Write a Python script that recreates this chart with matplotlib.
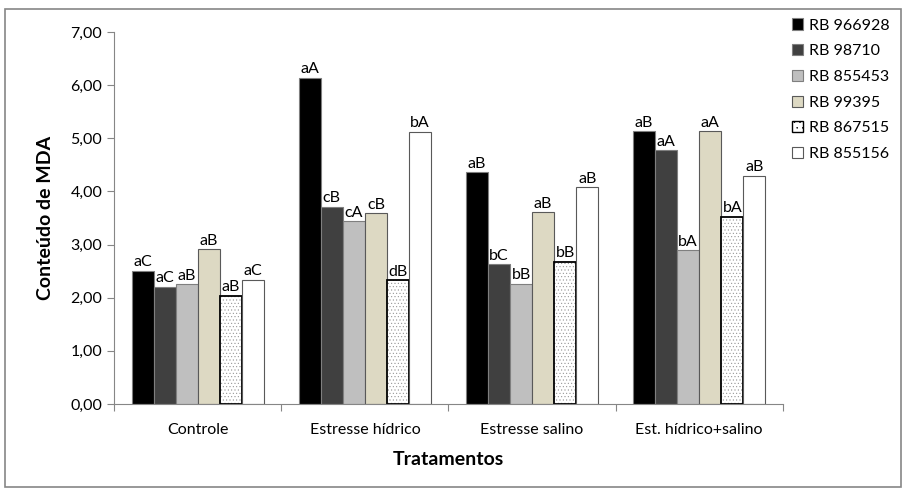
import matplotlib.pyplot as plt
import numpy as np
from matplotlib.patches import Rectangle
from matplotlib.ticker import FuncFormatter

plt.rcParams['font.family'] = ['Lato', 'DejaVu Sans']
plt.rcParams['hatch.linewidth'] = 0.35

tratamentos = ['Controle', 'Estresse hídrico', 'Estresse salino', 'Est. hídrico+salino']
cultivares = ['RB 966928', 'RB 98710', 'RB 855453', 'RB 99395', 'RB 867515', 'RB 855156']

# MDA por cultivar, na ordem dos tratamentos
mda = {
    'RB 966928': [2.50, 6.14, 4.36, 5.13],
    'RB 98710': [2.20, 3.71, 2.63, 4.77],
    'RB 855453': [2.25, 3.44, 2.26, 2.89],
    'RB 99395': [2.91, 3.59, 3.61, 5.13],
    'RB 867515': [2.03, 2.33, 2.68, 3.52],
    'RB 855156': [2.34, 5.12, 4.08, 4.29],
}
letras = {
    'RB 966928': ['aC', 'aA', 'aB', 'aB'],
    'RB 98710': ['aC', 'cB', 'bC', 'aA'],
    'RB 855453': ['aB', 'cA', 'bB', 'bA'],
    'RB 99395': ['aB', 'cB', 'aB', 'aA'],
    'RB 867515': ['aB', 'dB', 'bB', 'bA'],
    'RB 855156': ['aC', 'bA', 'aB', 'aB'],
}

cores = ['#000000', '#404040', '#bfbfbf', '#ddd9c3', 'white', 'white']
bordas = ['#7f7f7f', '#7f7f7f', '#7f7f7f', '#595959', '#000000', '#595959']
espessuras = [0.8, 0.8, 0.8, 0.8, 1.3, 0.8]

fig = plt.figure(figsize=(9.06, 4.92), dpi=100)
ax = fig.add_axes([0.126, 0.179, 0.738, 0.756])

x = np.arange(len(tratamentos)) + 0.5
largura = 0.132
for i, cv in enumerate(cultivares):
    pos = x + (i - 2.5) * largura
    if cv == 'RB 867515':
        # pontilhado cinza fino por baixo, contorno preto por cima
        ax.bar(pos, mda[cv], largura, color='white', edgecolor='#8c8c8c',
               hatch='.....', linewidth=0)
        ax.bar(pos, mda[cv], largura, fill=False, edgecolor=bordas[i],
               linewidth=espessuras[i])
        ax.bar([np.nan], [np.nan], color='white', edgecolor='black', hatch='...',
               linewidth=1.0, label=cv)
    else:
        ax.bar(pos, mda[cv], largura, color=cores[i], edgecolor=bordas[i],
               linewidth=espessuras[i], label=cv)
    for xp, v, t in zip(pos, mda[cv], letras[cv]):
        ax.text(xp, v + 0.03, t, ha='center', va='bottom', fontsize=11.5)

ax.set_xlim(0, 4)
ax.set_ylim(0, 7)
ax.set_yticks(np.arange(0, 8, 1))
ax.yaxis.set_major_formatter(FuncFormatter(lambda v, p: f'{v:.2f}'.replace('.', ',')))
ax.set_xticks([0, 1, 2, 3, 4])
ax.set_xticklabels([])
ax.set_xticks(x, minor=True)
ax.set_xticklabels(tratamentos, minor=True, fontsize=11.5)
ax.tick_params(axis='x', which='minor', length=0, pad=14)
ax.tick_params(axis='x', which='major', length=5, color='#868686')
ax.tick_params(axis='y', length=5, color='#868686', labelsize=11.5)

for s in ['top', 'right']:
    ax.spines[s].set_visible(False)
for s in ['left', 'bottom']:
    ax.spines[s].set_color('#868686')

ax.set_ylabel('Conteúdo de MDA', fontsize=14, fontweight='bold', labelpad=12)
ax.set_xlabel('Tratamentos', fontsize=14, fontweight='bold', labelpad=10)

ax.legend(loc='upper left', bbox_to_anchor=(0.992, 1.075), frameon=False, fontsize=11.5,
          handlelength=0.7, handleheight=0.7, handletextpad=0.4, labelspacing=0.72)

fig.patches.append(Rectangle((0.006, 0.01), 0.988, 0.972, transform=fig.transFigure,
                             fill=False, edgecolor='#868686', linewidth=1.2))

plt.savefig('out.png', dpi=100)
plt.close()
